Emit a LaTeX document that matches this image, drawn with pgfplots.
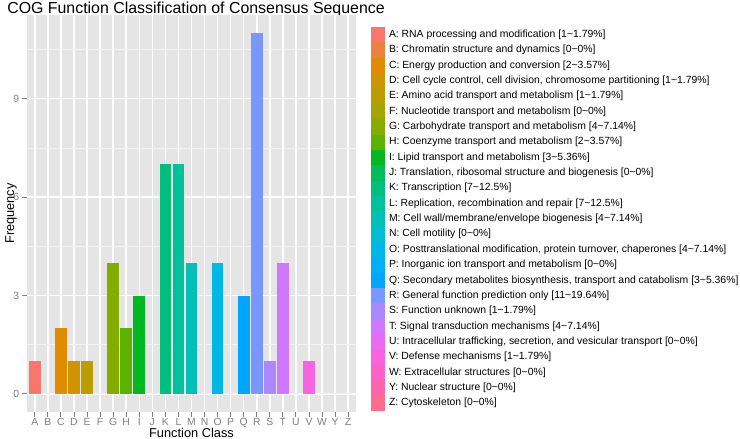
\documentclass[border=0pt]{standalone}
\usepackage{fontspec}
\setmainfont{Liberation Sans}
\usepackage{pgfplots}
\pgfplotsset{compat=1.18}
\definecolor{cA}{HTML}{F8766D}
\definecolor{cB}{HTML}{ED8141}
\definecolor{cC}{HTML}{E08B00}
\definecolor{cD}{HTML}{CF9400}
\definecolor{cE}{HTML}{BB9D00}
\definecolor{cF}{HTML}{A3A500}
\definecolor{cG}{HTML}{85AD00}
\definecolor{cH}{HTML}{5BB300}
\definecolor{cI}{HTML}{00B81F}
\definecolor{cJ}{HTML}{00BC59}
\definecolor{cK}{HTML}{00BF7D}
\definecolor{cL}{HTML}{00C19C}
\definecolor{cM}{HTML}{00C0B8}
\definecolor{cN}{HTML}{00BDD0}
\definecolor{cO}{HTML}{00B8E5}
\definecolor{cP}{HTML}{00B0F6}
\definecolor{cQ}{HTML}{00A5FF}
\definecolor{cR}{HTML}{7997FF}
\definecolor{cS}{HTML}{AC88FF}
\definecolor{cT}{HTML}{CF78FF}
\definecolor{cU}{HTML}{E76BF3}
\definecolor{cV}{HTML}{F763E0}
\definecolor{cW}{HTML}{FF61C9}
\definecolor{cY}{HTML}{FF65AE}
\definecolor{cZ}{HTML}{FF6C90}
\definecolor{panelbg}{HTML}{E5E5E5}
\definecolor{minorgrid}{HTML}{F2F2F2}
\definecolor{tickgrey}{HTML}{7F7F7F}
\pgfplotsset{
  cogbar/.style={ybar, bar width=0.9, draw=none, fill=#1,
    legend image code/.code={%
      \path (0bp,-7.68bp) rectangle (14bp,7.68bp);
      \fill[##1] (0bp,-7.35bp) rectangle (14bp,7.35bp);}},
}
\begin{document}
\begin{tikzpicture}
\path[use as bounding box] (0bp,0bp) rectangle (740bp,439bp);
\node[anchor=base, font=\fontsize{15.9bp}{19bp}\selectfont, inner sep=0pt] at (196bp,425bp) {COG Function Classification of Consensus Sequence};
\begin{axis}[
  at={(27bp,27bp)}, anchor=south west, scale only axis,
  width=329bp, height=397bp,
  xmin=0.4, xmax=25.6, ymin=-0.55, ymax=11.55,
  axis background/.style={fill=panelbg},
  axis lines*=left, axis line style={draw=none},
  xtick={1,...,25},
  xticklabels={A,B,C,D,E,F,G,H,I,J,K,L,M,N,O,P,Q,R,S,T,U,V,W,Y,Z},
  ytick={0,3,6,9}, minor ytick={1.5,4.5,7.5,10.5},
  grid=both,
  major grid style={white, line width=1.5bp},
  minor grid style={minorgrid, line width=0.75bp},
  tick align=outside, major tick length=4.6bp, minor tick length=0pt,
  tick style={tickgrey, line width=1bp},
  ticklabel style={font=\fontsize{10.4bp}{12bp}\selectfont, text=tickgrey, inner sep=0pt},
  xticklabel style={yshift=-1.5bp},
  yticklabel style={xshift=-3bp},
  /pgf/number format/assume math mode=true,
  xlabel={Function Class}, ylabel={Frequency},
  label style={font=\fontsize{12.8bp}{15bp}\selectfont, inner sep=0pt},
  xlabel style={at={(axis description cs:0.5,0)}, anchor=base, yshift=-25.5bp},
  ylabel style={at={(axis description cs:0,0.5)}, anchor=base, yshift=13bp},
  legend style={at={(1.0456,0.9698)}, anchor=north west, draw=none, fill=none,
    inner sep=0pt, outer sep=0pt, row sep=0pt, column sep=4bp,
    font=\fontsize{10.4bp}{12bp}\selectfont,
    nodes={inner sep=0pt, text height=7.5bp, text depth=2.2bp}},
  legend cell align=left,
]
\addplot[cogbar=cA] coordinates {(1,1)};
\addlegendentry{A: RNA processing and modification [1\textasciitilde1.79\%]}
\addplot[cogbar=cB] coordinates {(2,0)};
\addlegendentry{B: Chromatin structure and dynamics [0\textasciitilde0\%]}
\addplot[cogbar=cC] coordinates {(3,2)};
\addlegendentry{C: Energy production and conversion [2\textasciitilde3.57\%]}
\addplot[cogbar=cD] coordinates {(4,1)};
\addlegendentry{D: Cell cycle control, cell division, chromosome partitioning [1\textasciitilde1.79\%]}
\addplot[cogbar=cE] coordinates {(5,1)};
\addlegendentry{E: Amino acid transport and metabolism [1\textasciitilde1.79\%]}
\addplot[cogbar=cF] coordinates {(6,0)};
\addlegendentry{F: Nucleotide transport and metabolism [0\textasciitilde0\%]}
\addplot[cogbar=cG] coordinates {(7,4)};
\addlegendentry{G: Carbohydrate transport and metabolism [4\textasciitilde7.14\%]}
\addplot[cogbar=cH] coordinates {(8,2)};
\addlegendentry{H: Coenzyme transport and metabolism [2\textasciitilde3.57\%]}
\addplot[cogbar=cI] coordinates {(9,3)};
\addlegendentry{I: Lipid transport and metabolism [3\textasciitilde5.36\%]}
\addplot[cogbar=cJ] coordinates {(10,0)};
\addlegendentry{J: Translation, ribosomal structure and biogenesis [0\textasciitilde0\%]}
\addplot[cogbar=cK] coordinates {(11,7)};
\addlegendentry{K: Transcription [7\textasciitilde12.5\%]}
\addplot[cogbar=cL] coordinates {(12,7)};
\addlegendentry{L: Replication, recombination and repair [7\textasciitilde12.5\%]}
\addplot[cogbar=cM] coordinates {(13,4)};
\addlegendentry{M: Cell wall/membrane/envelope biogenesis [4\textasciitilde7.14\%]}
\addplot[cogbar=cN] coordinates {(14,0)};
\addlegendentry{N: Cell motility [0\textasciitilde0\%]}
\addplot[cogbar=cO] coordinates {(15,4)};
\addlegendentry{O: Posttranslational modification, protein turnover, chaperones [4\textasciitilde7.14\%]}
\addplot[cogbar=cP] coordinates {(16,0)};
\addlegendentry{P: Inorganic ion transport and metabolism [0\textasciitilde0\%]}
\addplot[cogbar=cQ] coordinates {(17,3)};
\addlegendentry{Q: Secondary metabolites biosynthesis, transport and catabolism [3\textasciitilde5.36\%]}
\addplot[cogbar=cR] coordinates {(18,11)};
\addlegendentry{R: General function prediction only [11\textasciitilde19.64\%]}
\addplot[cogbar=cS] coordinates {(19,1)};
\addlegendentry{S: Function unknown [1\textasciitilde1.79\%]}
\addplot[cogbar=cT] coordinates {(20,4)};
\addlegendentry{T: Signal transduction mechanisms [4\textasciitilde7.14\%]}
\addplot[cogbar=cU] coordinates {(21,0)};
\addlegendentry{U: Intracellular trafficking, secretion, and vesicular transport [0\textasciitilde0\%]}
\addplot[cogbar=cV] coordinates {(22,1)};
\addlegendentry{V: Defense mechanisms [1\textasciitilde1.79\%]}
\addplot[cogbar=cW] coordinates {(23,0)};
\addlegendentry{W: Extracellular structures [0\textasciitilde0\%]}
\addplot[cogbar=cY] coordinates {(24,0)};
\addlegendentry{Y: Nuclear structure [0\textasciitilde0\%]}
\addplot[cogbar=cZ] coordinates {(25,0)};
\addlegendentry{Z: Cytoskeleton [0\textasciitilde0\%]}
\end{axis}
\end{tikzpicture}
\end{document}
